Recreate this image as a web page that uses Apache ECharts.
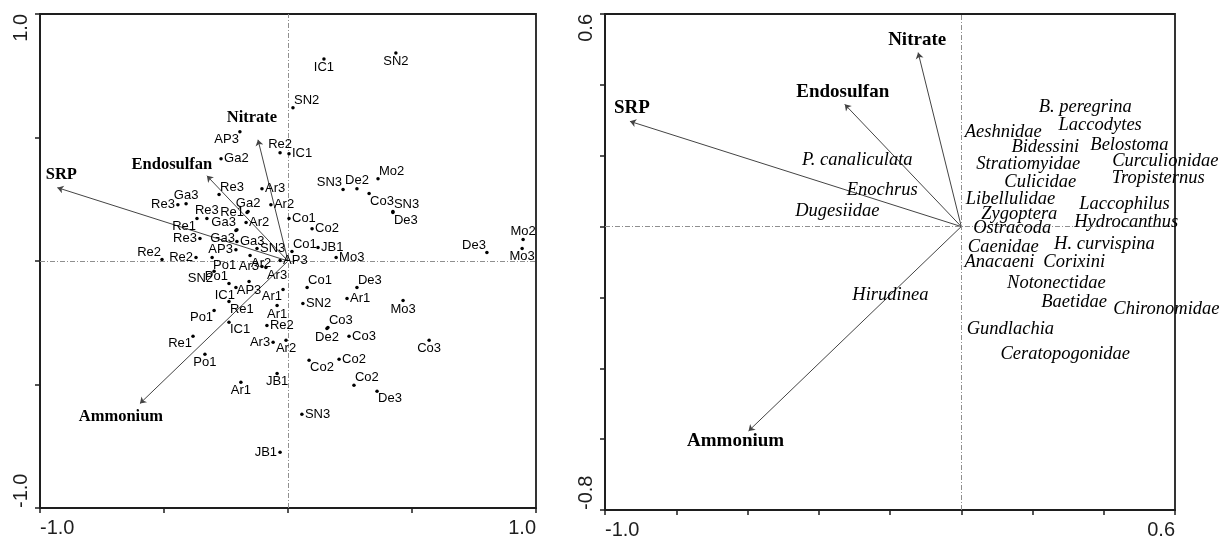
<!DOCTYPE html>
<html><head><meta charset="utf-8">
<script src="https://cdn.jsdelivr.net/npm/echarts@6/dist/echarts.min.js"></script>
<style>html,body{margin:0;padding:0;background:#fff}#c{width:1220px;height:541px}</style>
</head><body><div id="c"></div>
<script>
// ---------- data ----------
const siteNames = ['IC1','SN2','SN2','AP3','Re2','IC1','Ga2','Ar3','Re3','Ga2','Ar2','Ga3','Re3','Re3','Re1','Re1','Ar2','Ga3','Ga3','Re3','Ga3','SN3','Co1','JB1','Mo3','Re2','Re2','AP3','Po1','Ar2','AP3','Ar3','Ar3','SN2','Po1','AP3','IC1','Re1','Ar1','Ar1','Re2','Po1','IC1','Re1','Ar3','Ar2','Po1','Ar1','JB1','JB1','Co1','SN2','De3','Ar1','Mo3','Co3','De2','Co3','Co3','Co2','Co2','Co2','De3','SN3','Co1','Co2','SN3','De2','Mo2','Co3','SN3','De3','Mo2','Mo3','De3'];
const siteX = [0.145,0.435,0.020,-0.194,-0.032,0.004,-0.270,-0.105,-0.278,-0.161,-0.069,-0.411,-0.444,-0.327,-0.367,-0.165,-0.169,-0.206,-0.210,-0.355,-0.206,-0.125,0.016,0.121,0.194,-0.508,-0.371,-0.210,-0.306,-0.153,-0.032,-0.105,-0.089,-0.298,-0.238,-0.157,-0.210,-0.238,-0.020,-0.044,-0.085,-0.298,-0.238,-0.383,-0.060,-0.008,-0.335,-0.190,-0.044,-0.032,0.077,0.060,0.278,0.238,0.464,0.161,0.157,0.246,0.569,0.085,0.206,0.266,0.359,0.056,0.004,0.097,0.222,0.278,0.363,0.327,0.423,0.423,0.948,0.944,0.802];
const siteY = [0.818,0.842,0.620,0.523,0.438,0.434,0.414,0.293,0.269,0.200,0.228,0.232,0.228,0.172,0.172,0.196,0.156,0.127,0.123,0.091,0.079,0.051,0.038,0.055,0.014,0.006,0.014,0.046,0.014,0.022,0.002,-0.022,-0.026,-0.042,-0.091,-0.083,-0.107,-0.164,-0.115,-0.180,-0.261,-0.200,-0.248,-0.305,-0.329,-0.321,-0.378,-0.491,-0.455,-0.774,-0.107,-0.172,-0.107,-0.152,-0.160,-0.269,-0.273,-0.305,-0.321,-0.402,-0.398,-0.503,-0.527,-0.620,0.172,0.131,0.289,0.293,0.333,0.273,0.200,0.196,0.087,0.051,0.034];

const envNames = ['Nitrate','Endosulfan','SRP','Ammonium'];
const envX = [-0.121,-0.327,-0.930,-0.597];
const envY = [0.491,0.345,0.297,-0.577];

const speciesNames = ['P. canaliculata','Enochrus','Dugesiidae','Hirudinea','B. peregrina','Laccodytes','Aeshnidae','Bidessini','Belostoma','Stratiomyidae','Curculionidae','Culicidae','Tropisternus','Libellulidae','Laccophilus','Zygoptera','Hydrocanthus','Ostracoda','Caenidae','H. curvispina','Anacaeni','Corixini','Notonectidae','Baetidae','Chironomidae','Gundlachia','Ceratopogonidae'];
const speciesX = [-0.292,-0.222,-0.348,-0.199,0.348,0.390,0.118,0.236,0.472,0.188,0.573,0.222,0.553,0.138,0.458,0.163,0.463,0.143,0.118,0.402,0.107,0.317,0.267,0.317,0.576,0.138,0.292];
const speciesY = [0.187,0.102,0.043,-0.194,0.336,0.286,0.266,0.224,0.229,0.176,0.184,0.125,0.136,0.077,0.063,0.035,0.012,-0.005,-0.058,-0.050,-0.101,-0.101,-0.160,-0.213,-0.233,-0.290,-0.360];

const leftXTickLabels = ['-1.0','1.0'];
const leftYTickLabels = ['-1.0','1.0'];
const rightXTickLabels = ['-1.0','0.6'];
const rightYTickLabels = ['-0.8','0.6'];

// ---------- label placement (style) ----------
const siteLabelPlace = ['b','b','tr','bl','t','r','r','r','tr','t','r','t','l','t','bl','l','r','tl','bl','l','r','r','tr','r','r','tl','l','l','br','br','r','l','br','bl','tl','b','bl','br','bl','b','r','bl','br','bl','l','b','b','b','b','l','tr','r','tr','r','b','tr','b','r','b','br','r','tr','br','r','r','r','tl','t','tr','br','tr','br','t','b','tl'];
const envLabelOffsetL = [[-6,-22],[-35,-11],[4,-13],[-19,13]];
const envLabelOffsetR = [[-1,-13],[-2,-12],[2,-13],[-13,10]];

const PLACE = {
  r:{align:'left',verticalAlign:'middle',offset:[3,0]},
  l:{align:'right',verticalAlign:'middle',offset:[-3,0]},
  t:{align:'center',verticalAlign:'bottom',offset:[0,-2]},
  b:{align:'center',verticalAlign:'top',offset:[0,2]},
  tr:{align:'left',verticalAlign:'bottom',offset:[1,-1]},
  tl:{align:'right',verticalAlign:'bottom',offset:[-1,-1]},
  br:{align:'left',verticalAlign:'top',offset:[1,1]},
  bl:{align:'right',verticalAlign:'top',offset:[-1,1]}
};

const near = (a,b)=>Math.abs(a-b)<1e-6;
function endFmt(min,max,labels){ return v => near(v,min)?labels[0]:(near(v,max)?labels[1]:''); }

const frameColor = '#1e1e1e';
function mkX(gi,min,max,interval,labels){
  return {type:'value',gridIndex:gi,min,max,interval,
    axisLine:{show:true,onZero:false,lineStyle:{color:frameColor,width:1.8}},
    axisTick:{show:true,length:5,lineStyle:{color:frameColor,width:1.5}},
    splitLine:{show:false},
    axisLabel:{show:true,fontFamily:'Liberation Sans, Arial',fontSize:20,color:'#1e1e1e',margin:10,
      formatter:endFmt(min,max,labels),alignMinLabel:'left',alignMaxLabel:'right',showMinLabel:true,showMaxLabel:true,hideOverlap:false}};
}
function mkY(gi,min,max,interval,labels){
  return {type:'value',gridIndex:gi,min,max,interval,
    axisLine:{show:true,onZero:false,lineStyle:{color:frameColor,width:1.8}},
    axisTick:{show:true,length:5,lineStyle:{color:frameColor,width:1.5}},
    splitLine:{show:false},
    axisLabel:{show:true,rotate:90,fontFamily:'Liberation Sans, Arial',fontSize:20,color:'#1e1e1e',margin:9,
      formatter:endFmt(min,max,labels),alignMinLabel:'left',alignMaxLabel:'right',showMinLabel:true,showMaxLabel:true,hideOverlap:false}};
}

const zeroLines = {silent:true,symbol:'none',label:{show:false},
  lineStyle:{type:[5,2,1,2],color:'#8f8f8f',width:1,opacity:1},data:[{xAxis:0},{yAxis:0}]};

function arrowSeries(gi){
  return {type:'lines',coordinateSystem:'cartesian2d',xAxisIndex:gi,yAxisIndex:gi,silent:true,z:3,
    symbol:['none','arrow'],symbolSize:[0,6],
    lineStyle:{color:'#444',width:1,opacity:1},
    data:envNames.map((n,i)=>({coords:[[0,0],[envX[i],envY[i]]]}))};
}
function envLabelSeries(gi,offsets,size){
  return {type:'scatter',xAxisIndex:gi,yAxisIndex:gi,silent:true,symbolSize:1,z:4,
    itemStyle:{color:'rgba(0,0,0,0)',opacity:1},
    label:{show:true,position:'inside',formatter:'{b}',fontFamily:'Liberation Serif, Times New Roman',fontWeight:'bold',fontSize:size,color:'#000',opacity:1,align:'center',verticalAlign:'middle'},
    data:envNames.map((n,i)=>({name:n,value:[envX[i],envY[i]],label:{offset:offsets[i]}}))};
}

const option = {
  animation:false,
  backgroundColor:'#fff',
  grid:[
    {left:40,top:14,width:496,height:494,show:true,borderColor:frameColor,borderWidth:1.8,backgroundColor:'transparent'},
    {left:605,top:14,width:570,height:496,show:true,borderColor:frameColor,borderWidth:1.8,backgroundColor:'transparent'}
  ],
  xAxis:[mkX(0,-1,1,0.5,leftXTickLabels),mkX(1,-1,0.6,0.2,rightXTickLabels)],
  yAxis:[mkY(0,-1,1,0.5,leftYTickLabels),mkY(1,-0.8,0.6,0.2,rightYTickLabels)],
  series:[
    {type:'scatter',xAxisIndex:0,yAxisIndex:0,silent:true,symbol:'circle',symbolSize:3.5,z:5,
      itemStyle:{color:'#000',opacity:1},
      label:{show:true,position:'inside',formatter:'{b}',fontFamily:'Liberation Sans, Arial',fontSize:13,color:'#000',opacity:1},
      data:siteNames.map((n,i)=>({name:n,value:[siteX[i],siteY[i]],label:PLACE[siteLabelPlace[i]]})),
      markLine:zeroLines},
    arrowSeries(0),
    envLabelSeries(0,envLabelOffsetL,16.5),
    {type:'scatter',xAxisIndex:1,yAxisIndex:1,silent:true,symbolSize:1,z:5,
      itemStyle:{color:'rgba(0,0,0,0)',opacity:1},
      label:{show:true,position:'inside',formatter:'{b}',fontFamily:'Liberation Serif, Times New Roman',fontStyle:'italic',fontSize:18.5,color:'#000',opacity:1,align:'center',verticalAlign:'middle'},
      data:speciesNames.map((n,i)=>({name:n,value:[speciesX[i],speciesY[i]]})),
      markLine:zeroLines},
    arrowSeries(1),
    envLabelSeries(1,envLabelOffsetR,19)
  ]
};
const chart = echarts.init(document.getElementById('c'),null,{renderer:'canvas'});
chart.setOption(option);
</script>
</body></html>
